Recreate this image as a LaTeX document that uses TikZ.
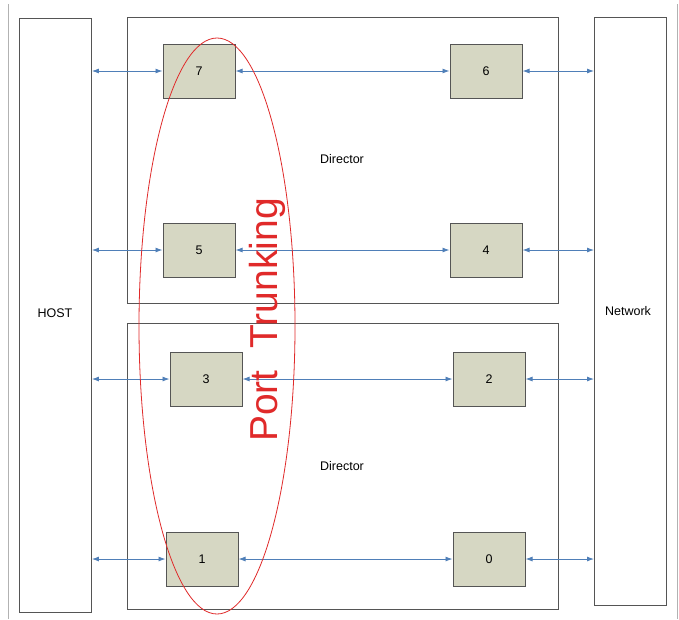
\documentclass[tikz,border=0pt]{standalone}
\usepackage{fontspec}
\setmainfont{Liberation Sans}
\usetikzlibrary{arrows.meta}
\definecolor{PortFill}{HTML}{D6D7C3}
\definecolor{EdgeGray}{HTML}{555555}
\definecolor{LinkBlue}{HTML}{4F7FB8}
\definecolor{TrunkRed}{HTML}{E02A2A}

\begin{document}
\begin{tikzpicture}[
      x=1pt,
      y=-1pt,
      font=\fontsize{12.5}{14}\selectfont,
      unit/.style={draw=EdgeGray,line width=0.9pt,anchor=north west,inner sep=0pt},
      port/.style={draw=EdgeGray,fill=PortFill,line width=1pt,minimum width=72pt,minimum height=54pt,inner sep=0pt},
      link/.style={draw=LinkBlue,line width=0.9pt,{Latex[length=7pt,width=5pt]}-{Latex[length=7pt,width=5pt]}}
    ]
      \useasboundingbox (0,0) rectangle (679,619);
      \fill[white] (0,0) rectangle (679,619);
      % faint frame edges of the screenshot
      \draw[black!30,line width=0.6pt] (8,4) -- (8,619);
      \draw[black!30,line width=0.6pt] (677,4) -- (677,619);
      % host, network and the two directors
      \node[unit,minimum width=72pt,minimum height=594pt] (host) at (19,18) {};
      \node[unit,minimum width=72pt,minimum height=588pt] (net) at (594,17) {};
      \node[unit,minimum width=431pt,minimum height=286pt] (dirA) at (127,17) {};
      \node[unit,minimum width=431pt,minimum height=286pt] (dirB) at (127,323) {};
      \node at (55,313) {HOST};
      \node at (628,311) {Network};
      \node at (342,159) {Director};
      \node at (342,466) {Director};
      % ports
      \node[port] (p7) at (199,71) {7};
      \node[port] (p6) at (486,71) {6};
      \node[port] (p5) at (199,250) {5};
      \node[port] (p4) at (486,250) {4};
      \node[port] (p3) at (206,379) {3};
      \node[port] (p2) at (489,379) {2};
      \node[port] (p1) at (202,559) {1};
      \node[port] (p0) at (489,559) {0};
      % links
      \draw[link] (p7.west -| host.east) -- (p7.west);
      \draw[link] (p7.east) -- (p6.west);
      \draw[link] (p6.east) -- (p6.east -| net.west);
      \draw[link] (p5.west -| host.east) -- (p5.west);
      \draw[link] (p5.east) -- (p4.west);
      \draw[link] (p4.east) -- (p4.east -| net.west);
      \draw[link] (p3.west -| host.east) -- (p3.west);
      \draw[link] (p3.east) -- (p2.west);
      \draw[link] (p2.east) -- (p2.east -| net.west);
      \draw[link] (p1.west -| host.east) -- (p1.west);
      \draw[link] (p1.east) -- (p0.west);
      \draw[link] (p0.east) -- (p0.east -| net.west);
      % trunk
      \draw[TrunkRed,line width=0.8pt] (217,326) ellipse [x radius=78, y radius=288];
      \node[rotate=90,text=TrunkRed,font=\fontsize{39}{40}\selectfont] (trunk) at (267,320) {Port\ \ Trunking};
    \end{tikzpicture}
\end{document}
